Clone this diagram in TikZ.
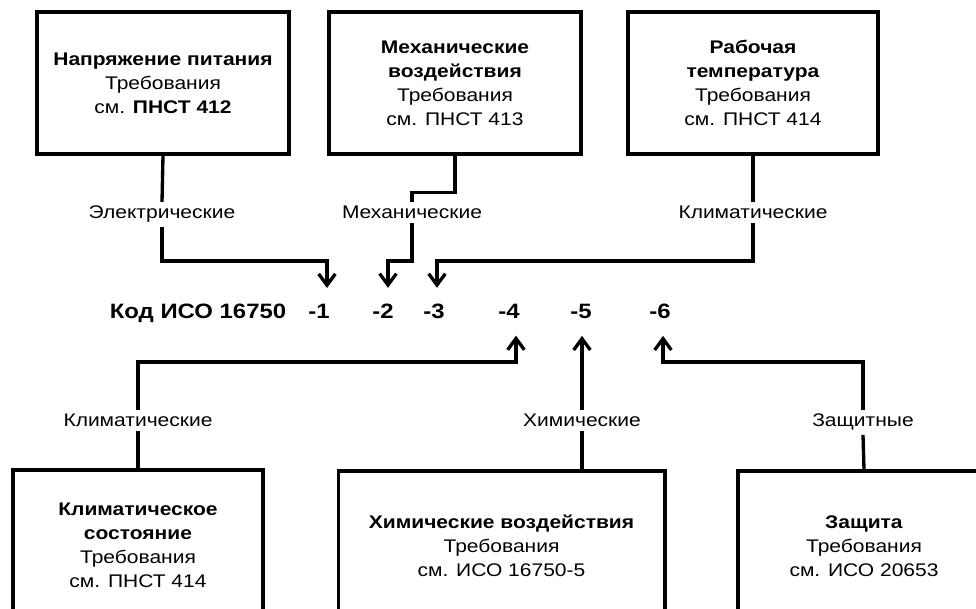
\documentclass[tikz,border=0pt]{standalone}
\usepackage{fontspec}
\setmainfont{Liberation Sans}[FakeStretch=1.15]
\usetikzlibrary{arrows.meta}

\tikzset{
  box/.style={draw, line width=2.5pt, inner sep=0pt, align=center,
    font=\fontsize{13.7}{18}\selectfont},
  lbl/.style={anchor=base, inner xsep=1pt, inner ysep=3pt,
    font=\fontsize{13.7}{16}\selectfont},
  code/.style={anchor=base, inner xsep=1pt, inner ysep=12.3pt,
    font=\fontsize{15.6}{18}\selectfont\bfseries},
  link/.style={line width=2.5pt},
  arr/.style={link, -{Straight Barb[length=8.5pt,width=12.5pt]}},
}
\def\ytop{261}
\def\ybot{362}

\begin{document}
\begin{tikzpicture}[x=0.75pt, y=-0.75pt]
\useasboundingbox (0,0) rectangle (976,609);
\clip (0,0) rectangle (976,609);

% upper boxes
\node[box, minimum width=189pt, minimum height=106.5pt] (B1) at (163,83)
  {\textbf{Напряжение питания}\\Требования\\см. \textbf{ПНСТ 412}};
\node[box, minimum width=189pt, minimum height=106.5pt] (B2) at (455,83)
  {\textbf{Механические}\\\textbf{воздействия}\\Требования\\см. ПНСТ 413};
\node[box, minimum width=187.5pt, minimum height=106.5pt] (B3) at (753,83)
  {\textbf{Рабочая}\\\textbf{температура}\\Требования\\см. ПНСТ 414};

% lower boxes (cut by the page edge)
\node[box, minimum width=187.5pt, minimum height=112.5pt] (B4) at (138,545)
  {\textbf{Климатическое}\\\textbf{состояние}\\Требования\\см. ПНСТ 414};
\node[box, minimum width=245pt, minimum height=112.5pt] (B5) at (501.5,546)
  {\textbf{Химические воздействия}\\Требования\\см. ИСО 16750-5};
\node[box, minimum width=189pt, minimum height=112.5pt] (B6) at (864,546)
  {\textbf{Защита}\\Требования\\см. ИСО 20653};

% code line
\node[code] (K0) at (198,319) {Код ИСО 16750};
\node[code] (K1) at (319,319) {-1};
\node[code] (K2) at (383,319) {-2};
\node[code] (K3) at (434,319) {-3};
\node[code] (K4) at (509,319) {-4};
\node[code] (K5) at (581,319) {-5};
\node[code] (K6) at (660,319) {-6};

\coordinate (T1) at ([xshift=6pt]K1.north);
\coordinate (T2) at ([xshift=3.75pt]K2.north);
\coordinate (T3) at ([xshift=2.25pt]K3.north);
\coordinate (T4) at ([xshift=5.25pt]K4.south);
\coordinate (T6) at ([xshift=2.25pt]K6.south);

% labels
\node[lbl] (L1) at (162,219) {Электрические};
\node[lbl] (L2) at (412,219) {Механические};
\node[lbl] (L3) at (753,219) {Климатические};
\node[lbl] (L4) at (138,427) {Климатические};
\node[lbl] (L5) at (582,427) {Химические};
\node[lbl] (L6) at (863,427) {Защитные};

\draw[link] (B1.south) -- (L1.north);
\draw[arr] (L1.south) |- (T1 |- 0,\ytop) -- (T1);

\draw[link] (B2.south) -- ++(0,37) -| (L2.north);
\draw[arr] (L2.south) |- (T2 |- 0,\ytop) -- (T2);

\draw[link] (B3.south) -- (L3.north);
\draw[arr] (L3.south) |- (T3 |- 0,\ytop) -- (T3);

\draw[link] (B4.north) -- (L4.south);
\draw[arr] (L4.north) |- (T4 |- 0,\ybot) -- (T4);

\draw[link] (B5.north -| L5) -- (L5.south);
\draw[arr] (L5.north) -- (L5.north |- K5.south);

\draw[link] (B6.north) -- (L6.south);
\draw[arr] (L6.north) |- (T6 |- 0,\ybot) -- (T6);

\end{tikzpicture}
\end{document}
